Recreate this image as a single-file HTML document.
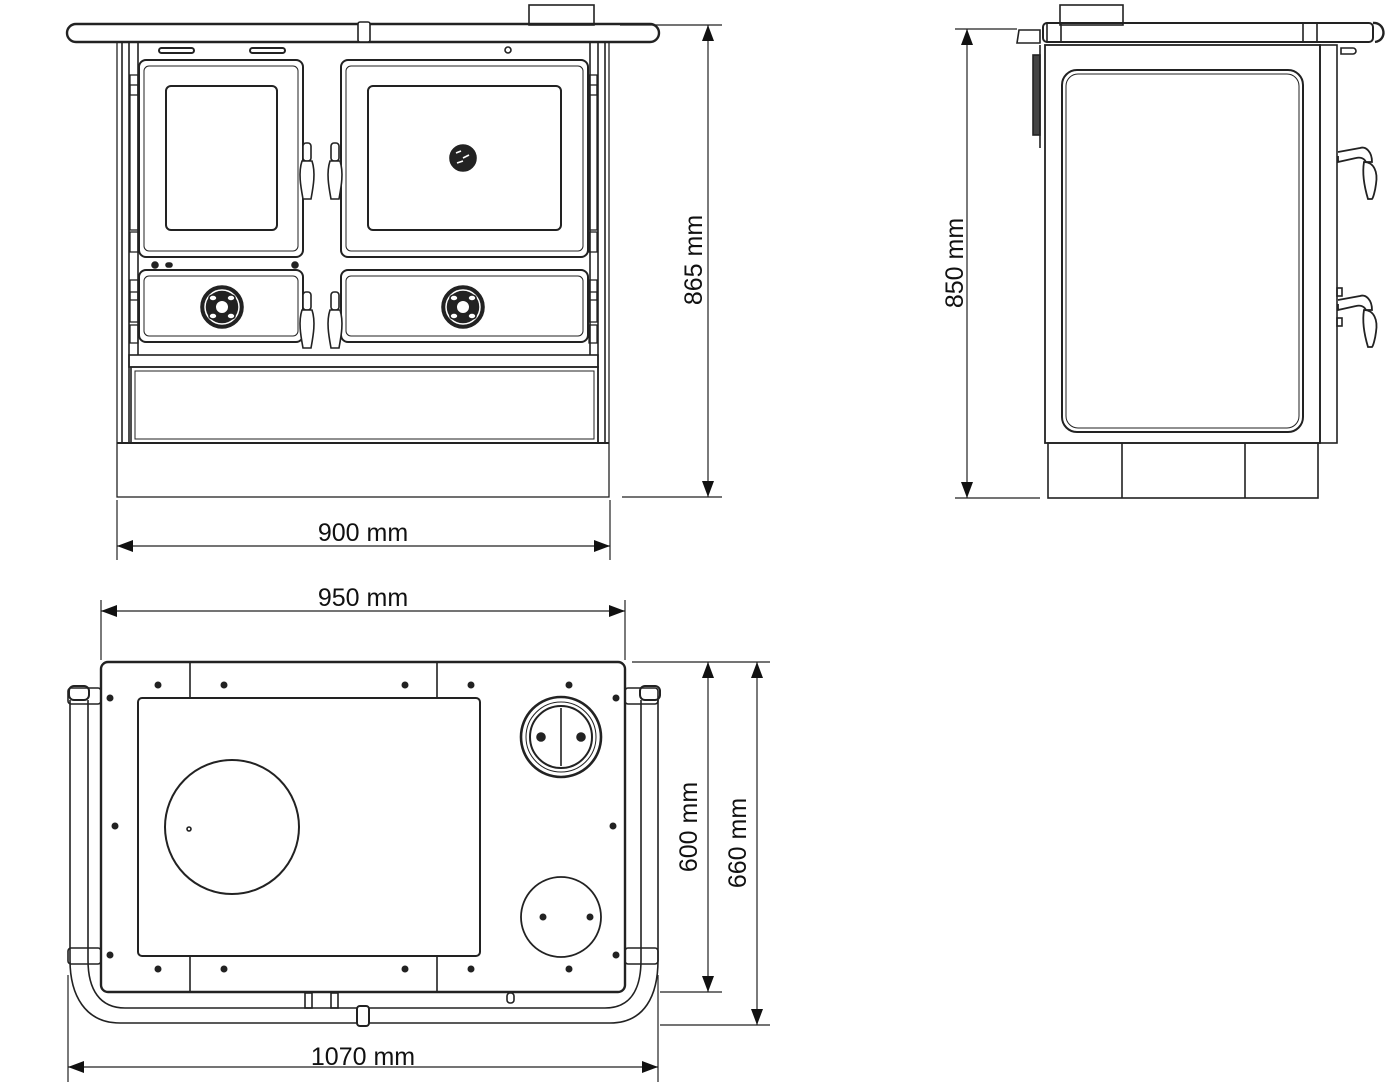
<!DOCTYPE html>
<html><head><meta charset="utf-8"><style>
html,body{margin:0;padding:0;background:#fff;}
svg{display:block}
text{font-family:"Liberation Sans",sans-serif;font-size:25px;fill:#111}
</style></head><body>
<svg width="1400" height="1084" viewBox="0 0 1400 1084" xmlns="http://www.w3.org/2000/svg">
<defs>
<marker id="a" viewBox="0 0 16 12" refX="16" refY="6" markerWidth="16" markerHeight="12" markerUnits="userSpaceOnUse" orient="auto-start-reverse"><path d="M0,0 L16,6 L0,12 Z" fill="#111"/></marker>
<g id="hdl"><rect x="-4" y="0" width="8" height="18" rx="3" fill="#fff" stroke="#222" stroke-width="1.6"/><path d="M-5,18 C-9,30 -6,45 -4,56 L4,56 C6,45 9,30 5,18 Z" fill="#fff" stroke="#222" stroke-width="1.6"/></g>
<g id="knob"><circle r="21" fill="#222"/><circle r="17" fill="none" stroke="#fff" stroke-width="1.5"/><circle r="7" fill="#fff" stroke="#222" stroke-width="2"/><ellipse cx="-9" cy="-9" rx="4" ry="3" fill="#fff"/><ellipse cx="9" cy="-9" rx="4" ry="3" fill="#fff"/><ellipse cx="-9" cy="9" rx="4" ry="3" fill="#fff"/><ellipse cx="9" cy="9" rx="4" ry="3" fill="#fff"/></g>
<g id="shdl" fill="none" stroke="#222" stroke-width="1.8">
<path d="M0,12 L0,18 L18,14 C22,13 26,14 28,18 L34,18 C34,8 28,2 22,4 L0,8"/>
<path d="M26,18 C36,18 40,28 38,40 C37,48 35,54 34,55 L30,55 C27,45 24,30 26,18 Z" fill="#fff"/>
</g>
</defs>
<g fill="none" stroke="#222" stroke-width="1.6">
<!-- FRONT VIEW -->
<rect x="529" y="5" width="65" height="20"/>
<rect x="67" y="24" width="592" height="18" rx="9" stroke-width="2.4"/>
<rect x="358" y="22" width="12" height="20" rx="2" fill="#fff"/>
<rect x="117" y="42" width="492" height="455" stroke-width="1.3"/>
<line x1="122" y1="42" x2="122" y2="443"/><line x1="605" y1="42" x2="605" y2="443"/>
<line x1="117" y1="443" x2="609" y2="443" stroke-width="2"/>
<line x1="129" y1="42" x2="129" y2="443"/><line x1="138" y1="42" x2="138" y2="355"/>
<line x1="598" y1="42" x2="598" y2="443"/><line x1="590" y1="42" x2="590" y2="355"/>
<rect x="159" y="48" width="35" height="5" rx="2.5" stroke-width="2"/>
<rect x="250" y="48" width="35" height="5" rx="2.5" stroke-width="2"/>
<circle cx="508" cy="50" r="3"/>
<rect x="139" y="60" width="164" height="197" rx="7" stroke-width="2"/>
<rect x="144" y="66" width="154" height="185" rx="5" stroke-width="1"/>
<rect x="166" y="86" width="111" height="144" rx="5" stroke-width="2"/>
<rect x="341" y="60" width="247" height="197" rx="7" stroke-width="2"/>
<rect x="346" y="66" width="237" height="185" rx="5" stroke-width="1"/>
<rect x="368" y="86" width="193" height="144" rx="5" stroke-width="2"/>
<circle cx="463" cy="158" r="13" fill="#222"/>
<path d="M456,153 l5,-2 M463,158 l6,-3 M457,163 l6,-2" stroke="#fff" stroke-width="1.6"/>
<circle cx="155" cy="265" r="3" fill="#222"/><rect x="166" y="263" width="6" height="4" rx="2" fill="#222"/><circle cx="295" cy="265" r="3" fill="#222"/>
<rect x="139" y="270" width="164" height="72" rx="7" stroke-width="2"/>
<rect x="144" y="276" width="154" height="60" rx="5" stroke-width="1"/>
<rect x="341" y="270" width="247" height="72" rx="7" stroke-width="2"/>
<rect x="346" y="276" width="237" height="60" rx="5" stroke-width="1"/>
<rect x="129" y="355" width="469" height="12"/>
<rect x="131" y="367" width="467" height="76"/>
<rect x="135" y="371" width="459" height="68" stroke-width="1"/>
<g stroke-width="1.3">
<rect x="130" y="75" width="8" height="20"/><rect x="130" y="85" width="8" height="145"/><rect x="130" y="232" width="8" height="20"/>
<rect x="130" y="280" width="8" height="20"/><rect x="130" y="292" width="8" height="30"/><rect x="130" y="325" width="8" height="18"/>
<rect x="589" y="75" width="8" height="20"/><rect x="589" y="85" width="8" height="145"/><rect x="589" y="232" width="8" height="20"/>
<rect x="589" y="280" width="8" height="20"/><rect x="589" y="292" width="8" height="30"/><rect x="589" y="325" width="8" height="18"/>
</g>
<use href="#knob" x="222" y="307"/><use href="#knob" x="463" y="307"/>
<use href="#hdl" x="307" y="143"/><use href="#hdl" x="335" y="143"/>
<use href="#hdl" x="307" y="292"/><use href="#hdl" x="335" y="292"/>

<!-- SIDE VIEW -->
<rect x="1060" y="5" width="63" height="20"/>
<path d="M1017,43 L1019,30 L1040,30 L1040,43 Z"/>
<rect x="1043" y="23" width="330" height="19" rx="4" stroke-width="2"/>
<path d="M1373,23 C1385,22 1388,40 1375,42" stroke-width="2.4"/>
<rect x="1047" y="23" width="14" height="19"/><rect x="1303" y="23" width="14" height="19"/>
<path d="M1341,48 h12 a3,3 0 0 1 0,6 h-12 z"/>
<rect x="1033" y="55" width="7" height="80" fill="#444"/>
<line x1="1040" y1="45" x2="1040" y2="148"/>
<rect x="1045" y="45" width="275" height="398" stroke-width="1.8"/>
<rect x="1320" y="45" width="17" height="398"/>
<rect x="1062" y="70" width="241" height="362" rx="15" stroke-width="2"/>
<rect x="1066" y="74" width="233" height="354" rx="12" stroke-width="1"/>
<rect x="1048" y="443" width="270" height="55"/>
<line x1="1122" y1="443" x2="1122" y2="498"/><line x1="1245" y1="443" x2="1245" y2="498"/>
<use href="#shdl" x="1338" y="144"/>
<use href="#shdl" x="1338" y="292"/>
<rect x="1337" y="288" width="5" height="8"/><rect x="1337" y="318" width="5" height="8"/>

<!-- TOP VIEW -->
<rect x="101" y="662" width="524" height="330" rx="7" stroke-width="2.4"/>
<line x1="190" y1="662" x2="190" y2="698"/><line x1="437" y1="662" x2="437" y2="698"/>
<line x1="190" y1="956" x2="190" y2="992"/><line x1="437" y1="956" x2="437" y2="992"/>
<rect x="138" y="698" width="342" height="258" rx="4" stroke-width="2"/>
<circle cx="232" cy="827" r="67" stroke-width="2"/>
<circle cx="189" cy="829" r="2"/>
<circle cx="561" cy="737" r="40" stroke-width="2.6"/>
<circle cx="561" cy="737" r="35" stroke-width="1"/>
<circle cx="561" cy="737" r="31" stroke-width="2"/>
<line x1="561" y1="708" x2="561" y2="766"/>
<circle cx="541" cy="737" r="4" fill="#222"/><circle cx="581" cy="737" r="4" fill="#222"/>
<circle cx="561" cy="917" r="40" stroke-width="1.8"/>
<g fill="#222" stroke="none">
<circle cx="158" cy="685" r="3.5"/><circle cx="224" cy="685" r="3.5"/><circle cx="405" cy="685" r="3.5"/><circle cx="471" cy="685" r="3.5"/><circle cx="569" cy="685" r="3.5"/>
<circle cx="158" cy="969" r="3.5"/><circle cx="224" cy="969" r="3.5"/><circle cx="405" cy="969" r="3.5"/><circle cx="471" cy="969" r="3.5"/><circle cx="569" cy="969" r="3.5"/>
<circle cx="115" cy="826" r="3.5"/><circle cx="613" cy="826" r="3.5"/>
<circle cx="110" cy="698" r="3.5"/><circle cx="616" cy="698" r="3.5"/><circle cx="110" cy="955" r="3.5"/><circle cx="616" cy="955" r="3.5"/>
<circle cx="543" cy="917" r="3.5"/><circle cx="590" cy="917" r="3.5"/>
</g>
<path d="M70,700 L70,960 C70,995 85,1023 120,1023 L610,1023 C645,1023 658,995 658,960 L658,700" stroke-width="1.6"/>
<path d="M88,700 L88,960 C88,990 100,1008 125,1008 L605,1008 C630,1008 641,990 641,960 L641,700" stroke-width="1.6"/>
<rect x="69" y="686" width="20" height="14" rx="5" stroke-width="2"/><rect x="640" y="686" width="20" height="14" rx="5" stroke-width="2"/>
<rect x="68" y="948" width="33" height="16" rx="3"/><rect x="625" y="948" width="33" height="16" rx="3"/>
<rect x="68" y="688" width="33" height="16" rx="3"/><rect x="625" y="688" width="33" height="16" rx="3"/>
<rect x="357" y="1006" width="12" height="20" rx="3" fill="#fff" stroke-width="2"/>
<rect x="305" y="993" width="7" height="15"/><rect x="331" y="993" width="7" height="15"/>
<rect x="507" y="993" width="7" height="10" rx="3"/>
</g>

<!-- DIMENSIONS -->
<g stroke="#222" stroke-width="1.2" fill="none">
<line x1="620" y1="25" x2="722" y2="25"/><line x1="622" y1="497" x2="722" y2="497"/>
<line x1="708" y1="25" x2="708" y2="497" marker-start="url(#a)" marker-end="url(#a)"/>
<line x1="117" y1="500" x2="117" y2="560"/><line x1="610" y1="500" x2="610" y2="560"/>
<line x1="117" y1="546" x2="610" y2="546" marker-start="url(#a)" marker-end="url(#a)"/>
<line x1="955" y1="29" x2="1017" y2="29"/><line x1="955" y1="498" x2="1040" y2="498"/>
<line x1="967" y1="29" x2="967" y2="498" marker-start="url(#a)" marker-end="url(#a)"/>
<line x1="101" y1="600" x2="101" y2="660"/><line x1="625" y1="600" x2="625" y2="660"/>
<line x1="101" y1="611" x2="625" y2="611" marker-start="url(#a)" marker-end="url(#a)"/>
<line x1="632" y1="662" x2="770" y2="662"/><line x1="660" y1="992" x2="722" y2="992"/><line x1="660" y1="1025" x2="770" y2="1025"/>
<line x1="708" y1="662" x2="708" y2="992" marker-start="url(#a)" marker-end="url(#a)"/>
<line x1="757" y1="662" x2="757" y2="1025" marker-start="url(#a)" marker-end="url(#a)"/>
<line x1="68" y1="975" x2="68" y2="1082"/><line x1="658" y1="975" x2="658" y2="1082"/>
<line x1="68" y1="1067" x2="658" y2="1067" marker-start="url(#a)" marker-end="url(#a)"/>
</g>
<text x="363" y="541" text-anchor="middle">900 mm</text>
<text x="363" y="606" text-anchor="middle">950 mm</text>
<text x="363" y="1065" text-anchor="middle">1070 mm</text>
<text transform="translate(702,260) rotate(-90)" text-anchor="middle">865 mm</text>
<text transform="translate(963,263) rotate(-90)" text-anchor="middle">850 mm</text>
<text transform="translate(697,827) rotate(-90)" text-anchor="middle">600 mm</text>
<text transform="translate(746,843) rotate(-90)" text-anchor="middle">660 mm</text>
</svg>
</body></html>
